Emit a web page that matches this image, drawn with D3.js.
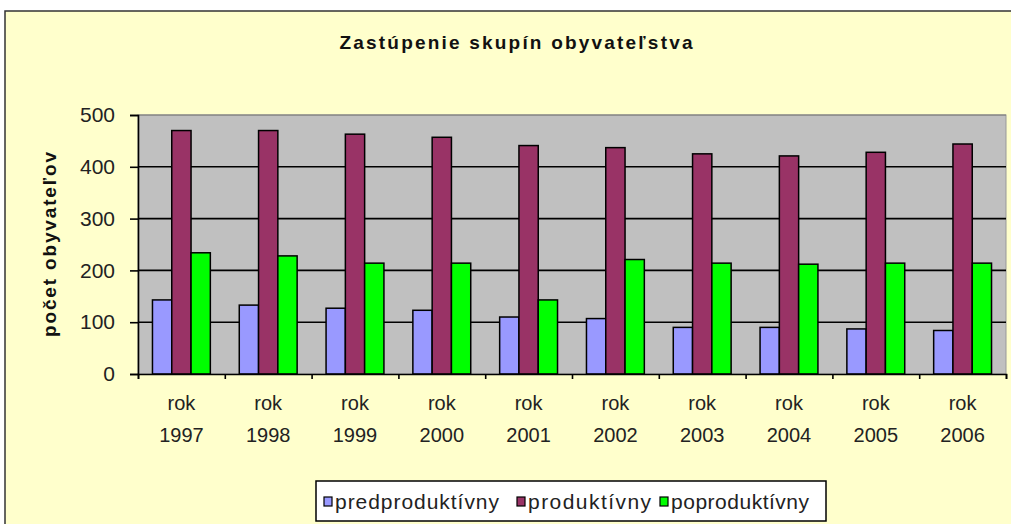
<!DOCTYPE html>
<html>
<head>
<meta charset="utf-8">
<script src="https://cdn.jsdelivr.net/npm/d3@7"></script>
<style>
  html, body { margin: 0; padding: 0; background: #ffffff; }
  svg { display: block; font-family: Arial, "Liberation Sans", sans-serif; }
</style>
</head>
<body>
<svg id="chart" width="1011" height="524"></svg>
<script>
const title = "Zastúpenie skupín obyvateľstva";
const yTitle = "počet obyvateľov";
const years = ["1997","1998","1999","2000","2001","2002","2003","2004","2005","2006"];
const yearPrefix = "rok";
const seriesNames = ["predproduktívny", "produktívny", "poproduktívny"];
const predproduktivny = [143, 133, 127, 123, 110, 107, 90, 90, 87, 84];
const produktivny = [470, 470, 463, 457, 441, 437, 425, 421, 428, 444];
const poproduktivny = [234, 228, 214, 214, 143, 221, 214, 212, 214, 214];
const yTicks = [0, 100, 200, 300, 400, 500];
const colors = ["#9999FF", "#993366", "#00FF00"];

const seriesValues = [predproduktivny, produktivny, poproduktivny];

const svg = d3.select("#chart");
const plot = {left: 138, right: 1006, top: 115, bottom: 374};

// chart area
svg.append("rect").attr("x", 5).attr("y", 11).attr("width", 1020).attr("height", 530)
  .attr("fill", "#FFFFCC").attr("stroke", "#333").attr("stroke-width", 1.5);

// title
svg.append("text").attr("x", 516).attr("y", 49).attr("text-anchor", "middle")
  .attr("font-size", 19).attr("font-weight", "bold").attr("fill", "#111")
  .attr("textLength", 353).attr("lengthAdjust", "spacing")
  .text(title);

const x = d3.scaleBand().domain(years).range([plot.left, plot.right])
  .paddingInner(1/3).paddingOuter(1/6);
const xs = d3.scaleBand().domain(seriesNames).range([0, x.bandwidth()]);
const y = d3.scaleLinear().domain([0, 500]).range([plot.bottom, plot.top]);
const xEdges = d3.scaleLinear().domain([0, years.length]).range([plot.left, plot.right]);

// plot background
svg.append("rect").attr("x", plot.left).attr("y", plot.top)
  .attr("width", plot.right - plot.left).attr("height", plot.bottom - plot.top)
  .attr("fill", "#C0C0C0").attr("stroke", "#999").attr("stroke-width", 1);

// gridlines
svg.append("g").selectAll("line").data(yTicks.filter(d => d > 0)).join("line")
  .attr("x1", plot.left).attr("x2", plot.right)
  .attr("y1", d => y(d)).attr("y2", d => y(d))
  .attr("stroke", d => d === 500 ? "#777" : "#000").attr("stroke-width", d => d === 500 ? 1 : 1.6);

// bars
const groups = svg.append("g").selectAll("g").data(years).join("g")
  .attr("transform", d => `translate(${x(d)},0)`);
groups.selectAll("rect").data((d, i) => seriesNames.map((s, j) => ({s, j, v: seriesValues[j][i]})))
  .join("rect")
  .attr("x", d => xs(d.s)).attr("width", xs.bandwidth())
  .attr("y", d => y(d.v)).attr("height", d => y(0) - y(d.v))
  .attr("fill", d => colors[d.j]).attr("stroke", "#000").attr("stroke-width", 1.5);

// y axis
const yAxis = svg.append("g").attr("transform", `translate(${plot.left},0)`)
  .call(d3.axisLeft(y).tickValues(yTicks).tickSize(8).tickPadding(15).tickFormat(d3.format("d")));
yAxis.select(".domain").attr("stroke", "#000").attr("stroke-width", 1.6);
yAxis.selectAll(".tick line").attr("stroke", "#000").attr("stroke-width", 1.6);
yAxis.selectAll(".tick text").attr("font-size", 21).attr("fill", "#222")
  .attr("font-family", "Arial, 'Liberation Sans', sans-serif");

// x axis (ticks at category boundaries)
const xAxis = svg.append("g").attr("transform", `translate(0,${plot.bottom})`)
  .call(d3.axisBottom(xEdges).tickValues(d3.range(0, years.length + 1)).tickSize(5).tickFormat(""));
xAxis.select(".domain").attr("stroke", "#000").attr("stroke-width", 1.6);
xAxis.selectAll(".tick line").attr("stroke", "#000").attr("stroke-width", 1.6);

// x labels
const xLab = svg.append("g").attr("transform", `translate(0,${plot.bottom})`)
  .call(d3.axisBottom(x).tickSize(0).tickPadding(0).tickFormat(""));
xLab.select(".domain").remove();
xLab.selectAll(".tick").each(function(d) {
  const t = d3.select(this).append("text").attr("fill", "#222").attr("font-size", 20)
    .attr("text-anchor", "middle").attr("font-family", "Arial, 'Liberation Sans', sans-serif");
  t.append("tspan").attr("x", 0).attr("y", 36).text(yearPrefix);
  t.append("tspan").attr("x", 0).attr("y", 68).text(d);
});

// y title
svg.append("text").attr("transform", `translate(56,${(plot.top + plot.bottom) / 2}) rotate(-90)`)
  .attr("text-anchor", "middle").attr("font-size", 19).attr("font-weight", "bold").attr("fill", "#111")
  .attr("textLength", 185).attr("lengthAdjust", "spacing")
  .text(yTitle);

// legend
const legend = svg.append("g");
legend.append("rect").attr("x", 316).attr("y", 481).attr("width", 510).attr("height", 40)
  .attr("fill", "#fff").attr("stroke", "#000").attr("stroke-width", 1.5);
const legX = [324, 517, 660];
const legW = [164, 123, 138];
seriesNames.forEach((s, i) => {
  legend.append("rect").attr("x", legX[i]).attr("y", 497).attr("width", 8).attr("height", 9)
    .attr("fill", colors[i]).attr("stroke", "#000").attr("stroke-width", 1.2);
  legend.append("text").attr("x", legX[i] + 11).attr("y", 509).attr("font-size", 21)
    .attr("fill", "#222").attr("textLength", legW[i]).attr("lengthAdjust", "spacing").text(s);
});
</script>
</body>
</html>
